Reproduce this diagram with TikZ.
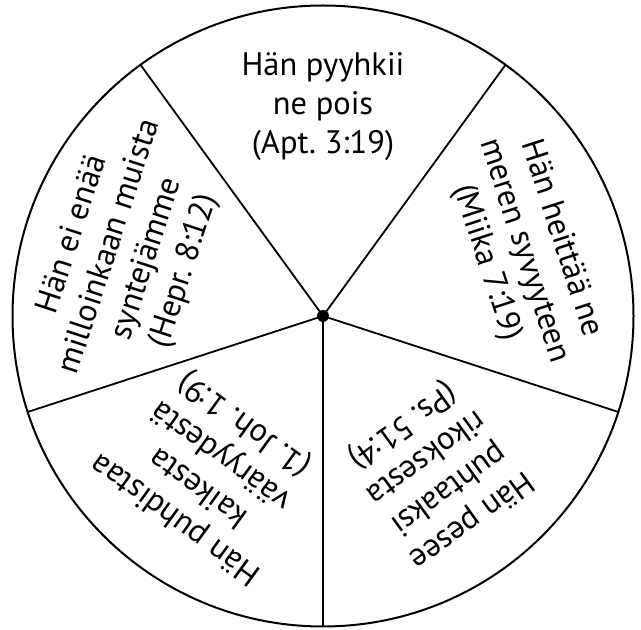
\documentclass[tikz,border=0pt]{standalone}
\usepackage{fontspec}
\setmainfont{PT Sans}
\usetikzlibrary{calc}
\begin{document}
\frenchspacing
\begin{tikzpicture}[x=1pt,y=1pt,
  wheel/.style={line width=2pt,draw=black},
  spoke/.style={line width=1.8pt,draw=black},
  label/.style={align=center,inner sep=0pt,font=\fontsize{32.5}{39}\selectfont}]
\useasboundingbox (0,0) rectangle (641,630);
\fill[white] (0,0) rectangle (641,630);
\coordinate (c) at (323,314);
\draw[wheel] (c) circle[radius=310.5];
\foreach \a/\n in {-90/s1,-18/s2,54/s3,126/s4,198/s5}{
  \path (c) ++(\a:310.5) coordinate (\n);
  \draw[spoke] (c) -- (\n);
}
\node[circle,fill=black,inner sep=0pt,minimum size=12pt] (hub) at (c) {};
\node[label] (t1) at ($(c)+(90:209)$) {Hän pyyhkii\\ne pois\\(Apt. 3:19)};
\node[label,rotate=-72] (t2) at ($(c)+(18:211)$) {Hän heittää ne\\meren syvyyteen\\(Miika 7:19)};
\node[label,rotate=72] (t3) at ($(c)+(162:204)$) {Hän ei enää\\milloinkaan muista\\syntejämme\\(Hepr. 8:12)};
\node[label,rotate=-144] (t4) at ($(c)+(-54:193)$) {Hän pesee\\puhtaaksi\\rikoksesta\\(Ps. 51:4)};
\node[label,rotate=144] (t5) at ($(c)+(234:191)$) {Hän puhdistaa\\kaikesta\\vääryydestä\\(1. Joh. 1:9)};
\end{tikzpicture}
\end{document}
